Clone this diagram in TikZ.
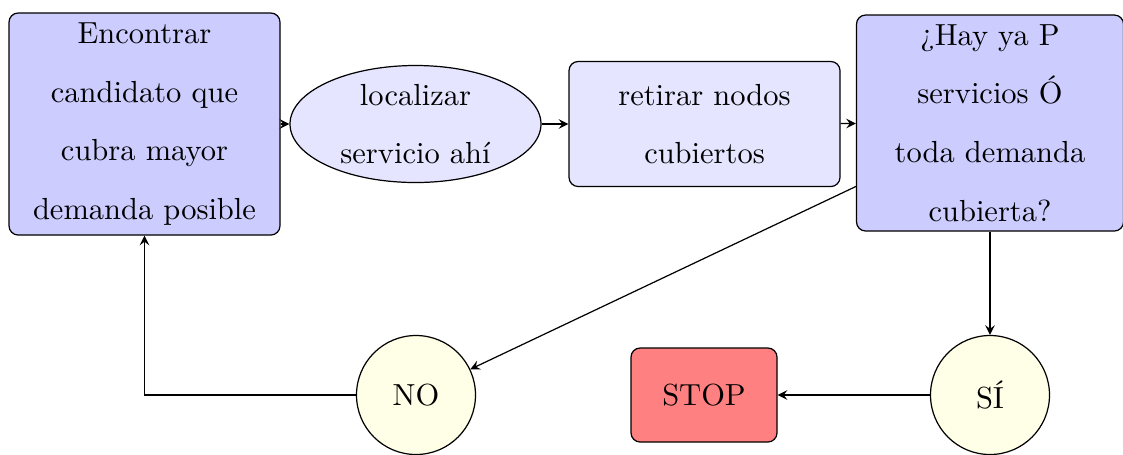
\documentclass[tikz,border=0pt]{standalone}
\usetikzlibrary{shapes.geometric}
\def\pxu{0.328pt}
\begin{document}
\begin{tikzpicture}[x=0.328pt,y=-0.328pt,
  every node/.style={draw, font=\fontsize{10}{19.2}\selectfont, align=center},
  box/.style={rectangle, rounded corners=3pt, inner sep=1pt},
  oval/.style={ellipse, inner sep=0pt},
  answer/.style={circle, fill=yellow!10, inner sep=0pt, minimum size=119*\pxu},
  link/.style={->, >=stealth}]
  \useasboundingbox (0,0) rectangle (1123,454);

  % main loop
  \node[box, fill=blue!20, minimum width=271*\pxu, minimum height=222*\pxu] (find) at (144.5,124)
    {Encontrar\\candidato que\\cubra mayor\\demanda posible};
  \node[oval, fill=blue!10, minimum width=251*\pxu, minimum height=117*\pxu] (place) at (415.5,124)
    {localizar\\servicio ahí};
  \node[box, fill=blue!10, minimum width=271*\pxu, minimum height=125*\pxu] (remove) at (704.5,124)
    {retirar nodos\\cubiertos};
  \node[box, fill=blue!20, minimum width=267*\pxu, minimum height=216*\pxu] (check) at (990,123)
    {¿Hay ya P\\servicios Ó\\toda demanda\\cubierta?};

  % outcomes
  \node[answer] (no) at (416,395) {NO};
  \node[box, fill=red!50, minimum width=146*\pxu, minimum height=94*\pxu] (stop) at (704,395) {STOP};
  \node[answer] (yes) at (990,395) {SÍ};

  % connectors
  \draw[link] (find) -- (place);
  \draw[link] (place) -- (remove);
  \draw[link] (remove) -- (check);
  \draw[link] (check) -- (no);
  \draw[link] (check) -- (yes);
  \draw[link] (yes) -- (stop);
  \draw[link] (no) -| (find);
\end{tikzpicture}
\end{document}
